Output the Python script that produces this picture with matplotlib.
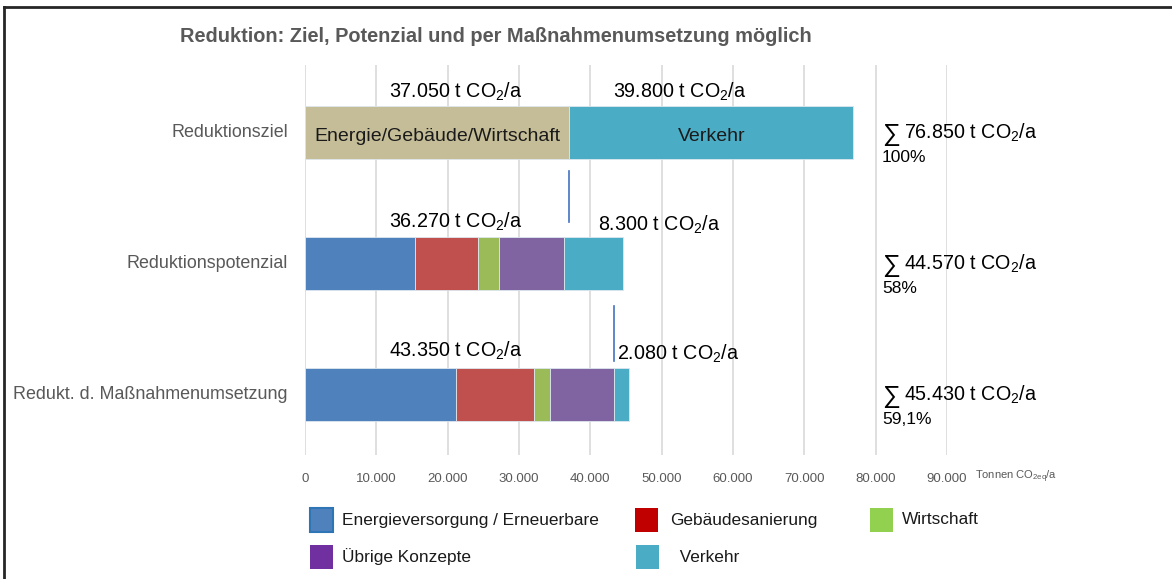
import matplotlib
matplotlib.use("Agg")
import matplotlib.pyplot as plt
from matplotlib.patches import Rectangle
from matplotlib.lines import Line2D

# **Fonts**
plt.rcParams['font.family'] = ['Liberation Sans', 'DejaVu Sans']
plt.rcParams['mathtext.default'] = 'regular'

# **Data**
categories = ["Reduktionsziel", "Reduktionspotenzial", "Redukt. d. Maßnahmenumsetzung"]
ziel_labels = ["Energie/Gebäude/Wirtschaft", "Verkehr"]
ziel_values = [37050, 39800]
sectors = ["Energieversorgung / Erneuerbare", "Gebäudesanierung", "Wirtschaft", "Übrige Konzepte", "Verkehr"]
potenzial_values = [15400, 8800, 3000, 9070, 8300]
umsetzung_values = [21200, 10900, 2200, 9050, 2080]
sum_labels = ["76.850", "44.570", "45.430"]
pct_labels = ["100%", "58%", "59,1%"]
xticks = list(range(0, 90001, 10000))

# **Styles**
bar_colors = ["#4F81BD", "#C0504D", "#9BBB59", "#8064A2", "#4BACC6"]
legend_colors = ["#4F81BD", "#C00000", "#92D050", "#7030A0", "#4BACC6"]
ziel_colors = ["#C4BD97", "#4BACC6"]
grey = "#595959"
ann_size = 14.2

# **Figure / Axes**
fig = plt.figure(figsize=(11.72, 5.79), dpi=100)
ax = fig.add_axes([305 / 1172, 1 - 455 / 579, (947 - 305) / 1172, (455 - 65) / 579])
ypos = [0, 1, 2]
bar_h = 0.40
ax.set_xlim(0, 90000)
ax.set_ylim(2.46, -0.515)

# Reduktionsziel
left = 0
for val, col, lab in zip(ziel_values, ziel_colors, ziel_labels):
    ax.barh(ypos[0], val, left=left, height=bar_h, color=col, edgecolor="#DDE7EE", linewidth=0.6, zorder=3)
    ax.text(left + val / 2, ypos[0] + 0.03, lab, ha="center", va="center", fontsize=14, color="#1a1a1a", zorder=4)
    left += val

# Potenzial / Umsetzung
for row, vals in [(1, potenzial_values), (2, umsetzung_values)]:
    left = 0
    for val, col in zip(vals, bar_colors):
        ax.barh(ypos[row], val, left=left, height=bar_h, color=col, edgecolor="#DDE7EE", linewidth=0.6, zorder=3)
        left += val

def fmt(v):
    return f"{v:,}".replace(",", ".")

co2 = " t CO$_2$/a"
# annotations above bars
label_x = 21200
pot_rest = sum(potenzial_values[:4])
ums_rest = sum(umsetzung_values[:4])
ax.text(label_x, -0.31, fmt(ziel_values[0]) + co2, ha="center", va="center", fontsize=ann_size)
ax.text(52600, -0.31, fmt(ziel_values[1]) + co2, ha="center", va="center", fontsize=ann_size)
ax.text(label_x, 0.683, fmt(pot_rest) + co2, ha="center", va="center", fontsize=ann_size)
ax.text(41100, 0.706, fmt(potenzial_values[4]) + co2, ha="left", va="center", fontsize=ann_size)
ax.text(label_x, 1.668, fmt(ums_rest) + co2, ha="center", va="center", fontsize=ann_size)
ax.text(ums_rest + 350, 1.69, fmt(umsetzung_values[4]) + co2, ha="left", va="center", fontsize=ann_size)

# connector lines
ax.plot([ziel_values[0], ziel_values[0]], [0.294, 0.683], color="#4472C4", lw=1.2, zorder=4)
ax.plot([ums_rest, ums_rest], [1.32, 1.74], color="#4472C4", lw=1.2, zorder=4)

# sums
for i in range(3):
    ax.text(80900, ypos[i] + 0.01, "∑", ha="left", va="center", fontsize=18)
    ax.annotate(sum_labels[i] + co2, (80900, ypos[i]), xytext=(22, 0), textcoords="offset pixels",
                ha="left", va="center", fontsize=ann_size)
    ax.text(80900, ypos[i] + 0.19, pct_labels[i], ha="left", va="center", fontsize=12.5)

# category labels
for y, c in zip(ypos, categories):
    ax.text(-2400, y, c, ha="right", va="center", fontsize=12.9, color=grey)

# grid & ticks
ax.set_xticks(xticks)
ax.set_xticklabels([fmt(v) for v in xticks], fontsize=9.5, color=grey)
ax.tick_params(axis="x", length=0, pad=13)
ax.set_yticks([])
ax.grid(axis="x", color="#D9D9D9", lw=1.2, zorder=0)
ax.set_axisbelow(True)
for s in ax.spines.values():
    s.set_visible(False)
fig.text(975 / 1172, 1 - 477 / 579, "Tonnen CO$_{2eq}$/a", fontsize=8, color=grey, ha="left", va="center")

# title
fig.text(180 / 1172, 1 - 37 / 579, "Reduktion: Ziel, Potenzial und per Maßnahmenumsetzung möglich",
         fontsize=14.4, fontweight="bold", color=grey, ha="left", va="center")

# legend (manual)
leg_x = [310, 310, 635, 636, 870]
leg_y = [520, 557, 520, 557, 520]
leg_tx = [342, 342, 670, 675, 902]
order = [0, 3, 1, 4, 2]
for k, i in enumerate(order):
    x0, y0 = leg_x[k], leg_y[k]
    edge = "#2E75B6" if i == 0 else legend_colors[i]
    fig.add_artist(Rectangle((x0 / 1172, 1 - (y0 + 12) / 579), 23 / 1172, 24 / 579, transform=fig.transFigure,
                             facecolor=legend_colors[i], edgecolor=edge, lw=1.5 if i == 0 else 0))
    name = (" " + sectors[i]) if i == 4 else sectors[i]
    fig.text(leg_tx[k] / 1172, 1 - y0 / 579, name, fontsize=12.4, ha="left", va="center", color="#1a1a1a")

# frame
fig.add_artist(Line2D([4 / 1172, 4 / 1172], [0, 1 - 7 / 579], transform=fig.transFigure, color="#262626", lw=2))
fig.add_artist(Line2D([4 / 1172, 1], [1 - 7 / 579, 1 - 7 / 579], transform=fig.transFigure, color="#262626", lw=2))

fig.savefig("out.png", dpi=100)
